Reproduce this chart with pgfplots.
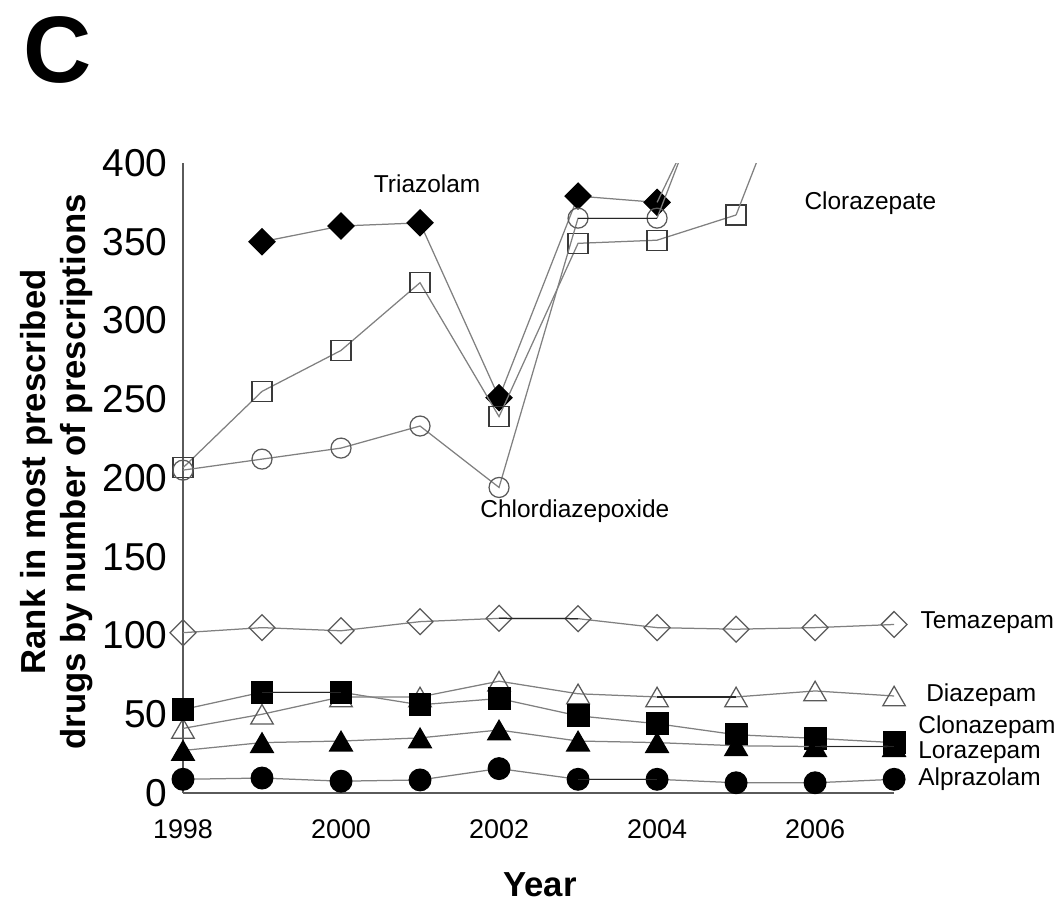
\documentclass[border=0pt]{standalone}
\usepackage{pgfplots}
\pgfplotsset{compat=1.18}
\usepackage{fontspec}
\setmainfont{Liberation Sans}
\definecolor{ln}{HTML}{808080}
\definecolor{dk}{HTML}{3A3A3A}
\definecolor{md}{HTML}{5A5A5A}
\begin{document}
\begin{tikzpicture}
\path[use as bounding box] (-65.52pt,-38.88pt) rectangle (314.28pt,285.48pt);
\begin{axis}[
 at={(0.36pt,0pt)}, anchor=south west, scale only axis,
 width=256pt, height=226.8pt,
 xmin=1998, xmax=2007, ymin=0, ymax=400,
 axis lines*=left, axis line style={draw=md, line width=0.6pt, -},
 major tick length=0pt,
 xtick={1998,2000,...,2006}, ytick={0,50,...,400},
 /pgf/number format/assume math mode=true,
 /pgf/number format/set thousands separator={},
 xticklabel style={font=\fontsize{9.7}{11}\selectfont, yshift=-6pt},
 yticklabel style={font=\fontsize{14}{15}\selectfont, xshift=-2pt},
 clip mode=individual,
 every axis plot/.append style={line width=0.45pt},
]
% Triazolam
\addplot[color=ln, mark=square*, mark size=3.3pt, mark options={rotate=45, fill=black, draw=black, solid}]
 coordinates {(1999,350)(2000,360)(2001,362)(2002,251)(2003,379)(2004,375)};
\addplot[color=ln, no marks] coordinates {(2004,375)(2005,479)};
% Clorazepate
\addplot[color=ln, mark=square, mark size=3.6pt, mark options={draw=dk, fill=none}]
 coordinates {(1998,206.5)(1999,255)(2000,281)(2001,324)(2002,239)(2003,349)(2004,351)(2005,367)};
\addplot[color=ln, no marks] coordinates {(2005,367)(2006,496)};
% Chlordiazepoxide
\addplot[color=ln, mark=o, mark size=3.6pt, mark options={draw=md, fill=none}]
 coordinates {(1998,205)(1999,212)(2000,219)(2001,233)(2002,194)(2003,365)(2004,365)};
\addplot[color=ln, no marks] coordinates {(2004,365)(2005,495)};
\addplot[color=black!85, no marks] coordinates {(2003,365)(2004,365)};
% Temazepam
\addplot[color=ln, mark=square, mark size=3.3pt, mark options={rotate=45, draw=md, fill=none}]
 coordinates {(1998,101.8)(1999,105)(2000,103)(2001,108.8)(2002,110.9)(2003,110.7)(2004,105)(2005,104)(2006,105)(2007,107)};
\addplot[color=black!85, no marks] coordinates {(2002,110.9)(2003,110.7)};
% Diazepam
\addplot[color=ln, mark=triangle, mark size=4.7pt, mark options={draw=md, fill=none, yshift=-1.2pt}]
 coordinates {(1998,41)(1999,50)(2000,61)(2001,61)(2002,71)(2003,63)(2004,61)(2005,61)(2006,64.8)(2007,61.6)};
\addplot[color=black!85, no marks] coordinates {(2004,61)(2005,61)};
% Clonazepam
\addplot[color=ln, mark=square*, mark size=3.9pt, mark options={draw=black, fill=black}]
 coordinates {(1998,53)(1999,64)(2000,64)(2001,56)(2002,60)(2003,49)(2004,44)(2005,37)(2006,34.7)(2007,32)};
\addplot[color=black!85, no marks] coordinates {(1999,64)(2000,64)};
% Lorazepam
\addplot[color=ln, mark=triangle*, mark size=4.7pt, mark options={draw=black, fill=black, yshift=-1.2pt}]
 coordinates {(1998,27)(1999,32)(2000,33)(2001,35)(2002,40)(2003,33)(2004,32)(2005,30)(2006,29.5)(2007,29.5)};
\addplot[color=black!85, no marks] coordinates {(2006,29.5)(2007,29.5)};
% Alprazolam
\addplot[color=ln, mark=*, mark size=3.9pt, mark options={draw=black, fill=black}]
 coordinates {(1998,8.7)(1999,9.5)(2000,7.5)(2001,8.3)(2002,15.5)(2003,8.7)(2004,8.7)(2005,6.5)(2006,6.5)(2007,8.7)};
\addplot[color=black!85, no marks] coordinates {(2003,8.7)(2004,8.7)};
% series labels
\begin{scope}[every node/.style={font=\fontsize{8.8}{10}\selectfont, inner sep=0pt}]
\node at (axis cs:2001.09,387) {Triazolam};
\node at (axis cs:2006.7,374.6) {Clorazepate};
\node at (axis cs:2002.96,179) {Chlordiazepoxide};
\node[anchor=west] at (axis cs:2007.33,108) {Temazepam};
\node[anchor=west] at (axis cs:2007.4,62.2) {Diazepam};
\node[anchor=west] at (axis cs:2007.3,41.9) {Clonazepam};
\node[anchor=west] at (axis cs:2007.3,25.4) {Lorazepam};
\node[anchor=west] at (axis cs:2007.3,8.9) {Alprazolam};
\end{scope}
\end{axis}
\node[font=\bfseries\fontsize{34}{36}\selectfont, inner sep=0pt] at (-44.64pt,267.5pt) {C};
\node[rotate=90, align=center, font=\bfseries\fontsize{12.5}{14.4}\selectfont, inner sep=0pt] at (-45pt,115.6pt) {Rank in most prescribed\\drugs by number of prescriptions};
\node[font=\bfseries\fontsize{12.5}{14}\selectfont, inner sep=0pt] at (128.9pt,-33.1pt) {Year};
\end{tikzpicture}
\end{document}
